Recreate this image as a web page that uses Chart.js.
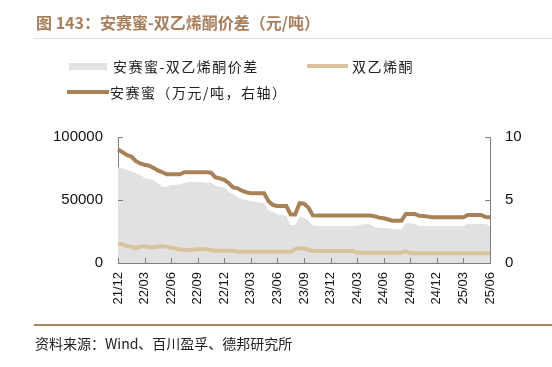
<!DOCTYPE html>
<html>
<head>
<meta charset="utf-8">
<script src="https://cdn.jsdelivr.net/npm/chart.js@4.4.1/dist/chart.umd.min.js"></script>
<style>
  body { margin: 0; background: #fff; }
  #wrap { position: relative; width: 552px; height: 367px; overflow: hidden; font-family: "Noto Sans CJK SC", sans-serif; }
  #c { position: absolute; left: 0; top: 0; }
  .txt { position: absolute; white-space: nowrap; height: 20px; line-height: 20px; }
  .title { left: 36px; top: 12px; font-size: 16px; font-weight: bold; color: #a87f5c; }
  .leg { font-size: 14px; letter-spacing: 1.5px; color: #222; }
  .src { left: 35px; top: 333px; font-size: 14px; color: #222; }
  .bar { position: absolute; }
</style>
</head>
<body>
<div id="wrap">
  <canvas id="c" width="552" height="367"></canvas>
  <div class="txt title">图 143：安赛蜜-双乙烯酮价差（元/吨）</div>
  <div class="bar" style="left:34px;top:38px;width:518px;height:1px;background:#e6ddd4"></div>

  <div class="bar" style="left:69px;top:63px;width:38px;height:7px;background:#e1e1e1"></div>
  <div class="txt leg" style="left:113px;top:56px">安赛蜜-双乙烯酮价差</div>
  <div class="bar" style="left:307px;top:64px;width:41px;height:4px;background:#d8c39c"></div>
  <div class="txt leg" style="left:352px;top:56px">双乙烯酮</div>
  <div class="bar" style="left:67px;top:90px;width:42px;height:4px;background:#a98159"></div>
  <div class="txt leg" style="left:110px;top:82px">安赛蜜（万元/吨，右轴）</div>

  <div class="bar" style="left:34px;top:324px;width:518px;height:2px;background:#ab8460"></div>
  <div class="txt src">资料来源：Wind、百川盈孚、德邦研究所</div>
</div>
<script>
// semi-monthly observation dates
const labels = [
  '21/12/01', '21/12/16',
  '22/01/01', '22/01/16', '22/02/01', '22/02/16', '22/03/01', '22/03/16',
  '22/04/01', '22/04/16', '22/05/01', '22/05/16', '22/06/01', '22/06/16',
  '22/07/01', '22/07/16', '22/08/01', '22/08/16', '22/09/01', '22/09/16',
  '22/10/01', '22/10/16', '22/11/01', '22/11/16', '22/12/01', '22/12/16',
  '23/01/01', '23/01/16', '23/02/01', '23/02/16', '23/03/01', '23/03/16',
  '23/04/01', '23/04/16', '23/05/01', '23/05/16', '23/06/01', '23/06/16',
  '23/07/01', '23/07/16', '23/08/01', '23/08/16', '23/09/01', '23/09/16',
  '23/10/01', '23/10/16', '23/11/01', '23/11/16', '23/12/01', '23/12/16',
  '24/01/01', '24/01/16', '24/02/01', '24/02/16', '24/03/01', '24/03/16',
  '24/04/01', '24/04/16', '24/05/01', '24/05/16', '24/06/01', '24/06/16',
  '24/07/01', '24/07/16', '24/08/01', '24/08/16', '24/09/01', '24/09/16',
  '24/10/01', '24/10/16', '24/11/01', '24/11/16', '24/12/01', '24/12/16',
  '25/01/01', '25/01/16', '25/02/01', '25/02/16', '25/03/01', '25/03/16',
  '25/04/01', '25/04/16', '25/05/01', '25/05/16', '25/06/01'
];

// 安赛蜜-双乙烯酮价差 (元/吨)
const spread = [
  76400, 75000, 74000, 73000, 71200, 70000, 67500, 66500, 65900, 63000,
  60600, 60600, 61900, 61900, 62500, 63500, 64500, 64500, 64000, 64000,
  63700, 63700, 61500, 60600, 60000, 56600, 54500, 52000, 50500, 50000,
  49000, 48700, 48000, 47400, 41500, 40700, 38500, 38000, 37500, 30200,
  30200, 37000, 36000, 33500, 29800, 29400, 29400, 29400, 29400, 29400,
  29400, 29400, 29400, 29400, 29400, 30500, 31000, 30500, 28300, 28000,
  27800, 27500, 27000, 26800, 26700, 31500, 31500, 31000, 29400, 29400,
  29400, 29400, 29400, 29400, 29400, 29400, 29400, 29400, 29400, 31000,
  31000, 31000, 31000, 31000, 29400
];

// 双乙烯酮 (元/吨)
const diketene = [
  15600, 14800, 13500, 13000, 11700, 13000, 13500, 12500, 12500, 13000,
  13500, 13000, 12000, 11700, 10500, 10300, 10300, 10600, 10900, 10900,
  10900, 10300, 9800, 9800, 9800, 9800, 9800, 9000, 9000, 9000,
  9000, 9000, 9000, 9000, 9000, 9000, 9000, 9000, 9000, 9000,
  11000, 11700, 11700, 10500, 9500, 9500, 9500, 9500, 9500, 9500,
  9500, 9500, 9500, 9500, 8200, 8200, 8200, 8200, 8200, 8200,
  8200, 8200, 8200, 8200, 8200, 9200, 7800, 7800, 7800, 7800,
  7800, 7800, 7800, 7800, 7800, 7800, 7800, 7800, 7800, 7800,
  7800, 7800, 7800, 7800, 7800
];

// 安赛蜜 (万元/吨, 右轴)
const acesulfame = [
  9.0, 8.8, 8.57, 8.45, 8.1, 7.9, 7.8, 7.72, 7.55, 7.35,
  7.2, 7.04, 7.04, 7.04, 7.04, 7.2, 7.2, 7.2, 7.2, 7.2,
  7.2, 7.17, 6.8, 6.72, 6.6, 6.35, 6.0, 5.93, 5.74, 5.6,
  5.53, 5.53, 5.53, 5.53, 4.9, 4.6, 4.52, 4.52, 4.52, 3.85,
  3.85, 4.74, 4.7, 4.4, 3.78, 3.76, 3.76, 3.76, 3.76, 3.76,
  3.76, 3.76, 3.76, 3.76, 3.76, 3.76, 3.76, 3.76, 3.7, 3.6,
  3.55, 3.45, 3.36, 3.36, 3.36, 3.89, 3.89, 3.89, 3.75, 3.73,
  3.68, 3.63, 3.63, 3.63, 3.63, 3.63, 3.63, 3.63, 3.63, 3.81,
  3.81, 3.81, 3.81, 3.65, 3.63
];

const leftTicks = [0, 50000, 100000];
const rightTicks = [0, 5, 10];
const quarterMonths = ['03', '06', '09', '12'];

const axisColor = '#7f7f7f';
const tickFamily = '"Liberation Sans", Arial, sans-serif';

function xTickLabel(i) {
  const l = labels[i];
  if (l && l.endsWith('/01') && quarterMonths.includes(l.slice(3, 5))) return l.slice(0, 5);
  return null;
}

// short inward tick marks, like the original
const innerTicks = {
  id: 'innerTicks',
  afterDraw(chart) {
    const { ctx, chartArea: a, scales } = chart;
    ctx.save();
    ctx.strokeStyle = axisColor;
    ctx.lineWidth = 1;
    ctx.beginPath();
    leftTicks.forEach(v => {
      const y = Math.round(scales.y.getPixelForValue(v)) + 0.5;
      ctx.moveTo(a.left, y); ctx.lineTo(a.left + 5, y);
    });
    rightTicks.forEach(v => {
      const y = Math.round(scales.y2.getPixelForValue(v)) + 0.5;
      ctx.moveTo(a.right, y); ctx.lineTo(a.right - 5, y);
    });
    labels.forEach((l, i) => {
      if (!xTickLabel(i)) return;
      const x = Math.round(scales.x.getPixelForValue(i)) + 0.5;
      ctx.moveTo(x, a.bottom); ctx.lineTo(x, a.bottom - 5);
    });
    ctx.stroke();
    ctx.restore();
  }
};

new Chart(document.getElementById('c'), {
  type: 'line',
  data: {
    labels: labels,
    datasets: [
      {
        label: '安赛蜜（万元/吨，右轴）',
        data: acesulfame,
        yAxisID: 'y2',
        borderColor: '#a98159',
        borderWidth: 4,
        pointRadius: 0,
        tension: 0,
        order: 1
      },
      {
        label: '双乙烯酮',
        data: diketene,
        yAxisID: 'y',
        borderColor: '#d8c39c',
        borderWidth: 4,
        pointRadius: 0,
        tension: 0,
        order: 2
      },
      {
        label: '安赛蜜-双乙烯酮价差',
        data: spread,
        yAxisID: 'y',
        borderWidth: 0,
        borderColor: 'rgba(0,0,0,0)',
        backgroundColor: '#e1e1e1',
        fill: 'origin',
        pointRadius: 0,
        tension: 0,
        order: 3
      }
    ]
  },
  options: {
    responsive: false,
    animation: false,
    layout: { padding: { top: 137, left: 0, right: 0, bottom: 0 } },
    plugins: { legend: { display: false }, tooltip: { enabled: false } },
    scales: {
      x: {
        type: 'category',
        offset: false,
        z: 1,
        grid: { display: false, drawTicks: false },
        border: { display: true, color: axisColor, width: 1 },
        ticks: {
          autoSkip: false,
          minRotation: 90,
          maxRotation: 90,
          padding: 9,
          color: '#111',
          font: { family: tickFamily, size: 13 },
          callback: (v, i) => xTickLabel(i)
        },
        afterFit: s => { s.height = 104; }
      },
      y: {
        position: 'left',
        min: 0,
        max: 100000,
        z: 1,
        grid: { display: false, drawTicks: false },
        border: { display: true, color: axisColor, width: 1 },
        ticks: {
          stepSize: 50000, padding: 15, color: '#111',
          font: { family: tickFamily, size: 15 },
          callback: v => String(v)
        },
        afterFit: s => { s.width = 118; }
      },
      y2: {
        position: 'right',
        min: 0,
        max: 10,
        z: 1,
        grid: { display: false, drawTicks: false },
        border: { display: true, color: axisColor, width: 1 },
        ticks: {
          stepSize: 5, padding: 15, color: '#111',
          font: { family: tickFamily, size: 15 },
          callback: v => String(v)
        },
        afterFit: s => { s.width = 62; }
      }
    }
  },
  plugins: [innerTicks]
});
</script>
</body>
</html>
